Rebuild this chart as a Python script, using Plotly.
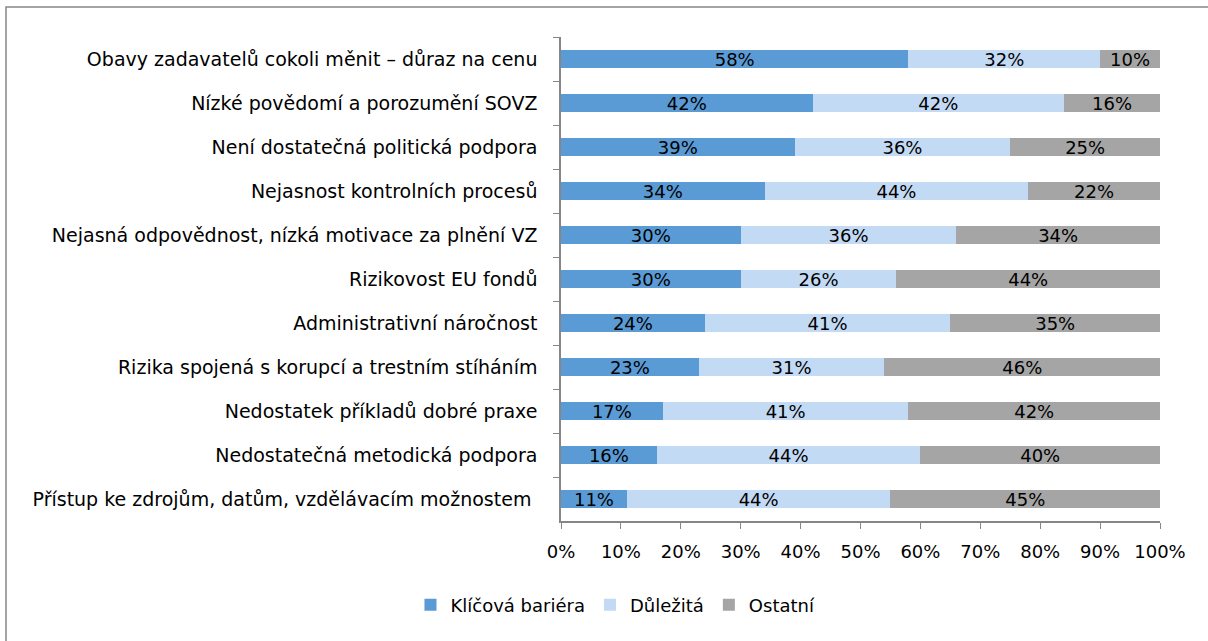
import plotly.graph_objects as go

categories = [
    "Obavy zadavatelů cokoli měnit – důraz na cenu",
    "Nízké povědomí a porozumění SOVZ",
    "Není dostatečná politická podpora",
    "Nejasnost kontrolních procesů",
    "Nejasná odpovědnost, nízká motivace za plnění VZ",
    "Rizikovost EU fondů",
    "Administrativní náročnost",
    "Rizika spojená s korupcí a trestním stíháním",
    "Nedostatek příkladů dobré praxe",
    "Nedostatečná metodická podpora",
    "Přístup ke zdrojům, datům, vzdělávacím možnostem ",
]
klicova = [58, 42, 39, 34, 30, 30, 24, 23, 17, 16, 11]
dulezita = [32, 42, 36, 44, 36, 26, 41, 31, 41, 44, 44]
ostatni = [10, 16, 25, 22, 34, 44, 35, 46, 42, 40, 45]
series_names = ["Klíčová bariéra", "Důležitá", "Ostatní"]
colors = ["#5B9BD5", "#C3DAF5", "#A5A5A5"]

FONT = "DejaVu Sans"

fig = go.Figure()
for name, vals, col in zip(series_names, [klicova, dulezita, ostatni], colors):
    fig.add_trace(go.Bar(
        y=categories, x=[v / 100 for v in vals], name=name, orientation="h",
        marker=dict(color=col, line=dict(width=0)),
        text=[f"{v}%" for v in vals], textposition="inside",
        insidetextanchor="middle",
        textfont=dict(color="black", size=18, family=FONT),
        width=0.42,
    ))

fig.update_layout(
    barmode="stack",
    width=1208, height=641,
    margin=dict(l=561, r=48, t=37, b=120, autoexpand=False),
    paper_bgcolor="white", plot_bgcolor="white",
    font=dict(family=FONT, size=18, color="black"),
    uniformtext=dict(mode="show", minsize=18),
    legend=dict(orientation="h", xref="container", yref="container",
                x=0.5095, xanchor="center", y=1 - 605 / 641, yanchor="middle",
                font=dict(size=18), traceorder="normal"),
    xaxis=dict(range=[0, 1], tickformat=".0%", dtick=0.1, showgrid=False,
               showline=True, linecolor="#868686", linewidth=1.5, automargin=False,
               ticks="outside", ticklen=6, tickcolor="#868686", zeroline=False,
               tickfont=dict(size=18), ticklabelstandoff=8),
    yaxis=dict(autorange="reversed", showline=True, linecolor="#868686", linewidth=1.5,
               ticks="outside", ticklen=6, tickcolor="#868686", tickson="boundaries",
               automargin=False,
               showgrid=False, tickfont=dict(size=19), ticklabelstandoff=18),
    shapes=[dict(type="rect", xref="paper", yref="paper",
                 x0=(6 - 561) / 599, x1=1.2, y0=-0.5, y1=1 + 30 / 484,
                 line=dict(color="#868686", width=1.5), fillcolor="rgba(0,0,0,0)")],
)
fig.write_html("out.html", config={"displayModeBar": False},
               post_script="document.body.style.margin='0';")
